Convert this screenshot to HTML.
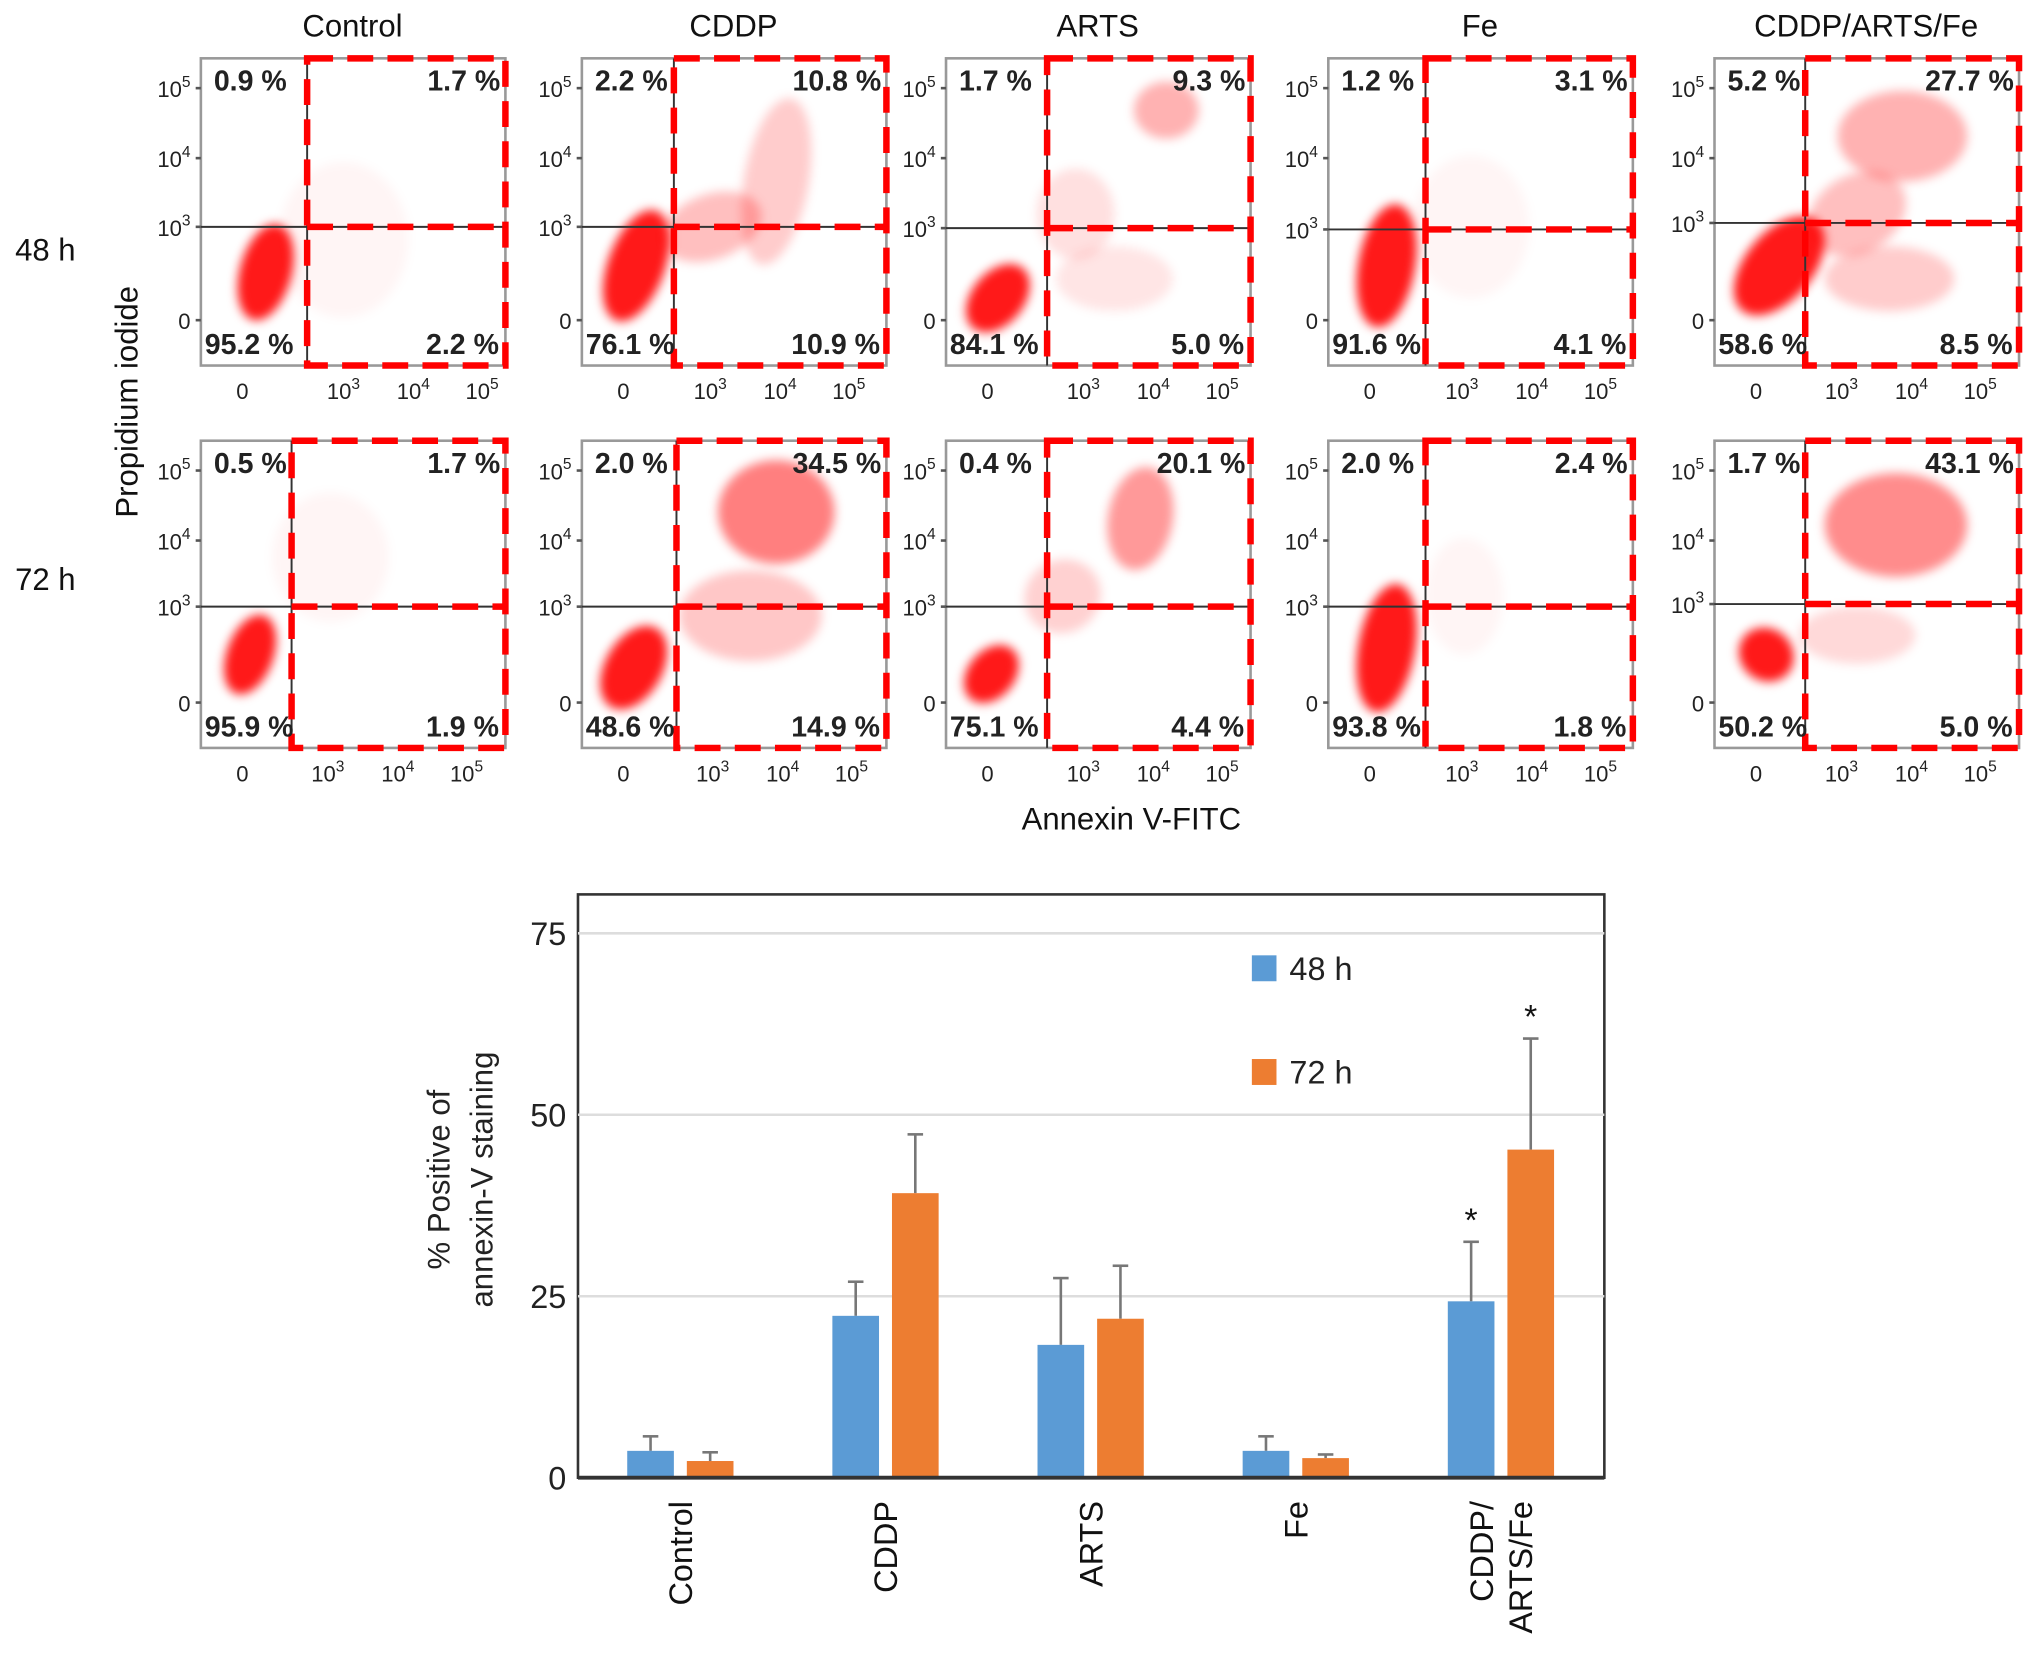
<!DOCTYPE html>
<html><head><meta charset="utf-8"><style>
html,body{margin:0;padding:0;background:#fff}
svg{display:block}
text{font-family:"Liberation Sans",sans-serif}
</style></head><body>
<svg id="fig" width="2032" height="1654" viewBox="0 0 1568 1276" preserveAspectRatio="none">
<defs><filter id="bl" x="-50%" y="-50%" width="200%" height="200%"><feGaussianBlur stdDeviation="4"/></filter></defs>
<g id="flow"></g>
<g id="bars"></g>
</svg>
<script>
const NS='http://www.w3.org/2000/svg';
function mk(tag,attrs,parent,txt){const e=document.createElementNS(NS,tag);for(const k in attrs)e.setAttribute(k,attrs[k]);if(txt!==undefined)e.textContent=txt;parent.appendChild(e);return e;}

/* ---------- flow panels ---------- */
const colTitles=['Control','CDDP','ARTS','Fe','CDDP/ARTS/Fe'];
const panelX=[155,449,730,1025,1323];
const gateX=[[237,520,808,1100,1393],[225,522,808,1100,1393]];
const gateY=[[175,175,176,177,172],[468,468,468,468,466]];
const rowTop=[45,340];
const quadLabels=[
 [['0.9 %','1.7 %','95.2 %','2.2 %'],['2.2 %','10.8 %','76.1 %','10.9 %'],['1.7 %','9.3 %','84.1 %','5.0 %'],['1.2 %','3.1 %','91.6 %','4.1 %'],['5.2 %','27.7 %','58.6 %','8.5 %']],
 [['0.5 %','1.7 %','95.9 %','1.9 %'],['2.0 %','34.5 %','48.6 %','14.9 %'],['0.4 %','20.1 %','75.1 %','4.4 %'],['2.0 %','2.4 %','93.8 %','1.8 %'],['1.7 %','43.1 %','50.2 %','5.0 %']]
];
const blobs=[
 [[[50,165,20,38,15,.9],[110,140,50,60,0,.04]],
  [[42,160,22,45,20,.9],[100,130,40,25,-20,.25],[150,95,25,65,10,.2]],
  [[40,185,20,30,40,.9],[170,40,25,22,0,.3],[100,120,30,35,0,.12],[130,170,45,25,0,.1]],
  [[45,160,22,48,10,.9],[110,130,45,55,0,.04]],
  [[50,160,26,45,40,.9],[110,120,40,30,-30,.25],[145,60,50,35,0,.3],[135,170,50,25,0,.2]]],
 [[[38,165,18,32,20,.9],[100,90,45,50,0,.04]],
  [[40,175,22,35,30,.9],[150,55,45,40,0,.5],[130,135,55,35,0,.22]],
  [[35,180,18,25,40,.9],[150,60,25,40,10,.4],[90,120,30,28,-30,.18]],
  [[45,160,22,50,10,.9],[105,120,30,45,0,.04]],
  [[40,165,22,20,40,.9],[140,65,55,40,0,.45],[110,150,45,22,0,.15]]]
];
const flow=document.getElementById('flow');
colTitles.forEach((t,c)=>{
  const tt=mk('text',{x:panelX[c]+117,y:28,'text-anchor':'middle','font-size':24,fill:'#111'},flow,t);
  
  
});
[['48 h',193],['72 h',447]].forEach(([t,y],i)=>{
  const e=mk('text',{x:35,y:y+8,'text-anchor':'middle','font-size':24,fill:'#111'},flow,t);
  
  
});
const pi=mk('text',{x:0,y:0,transform:'translate(106,310) rotate(-90)','text-anchor':'middle','font-size':24,fill:'#111'},flow,'Propidium iodide');


const av=mk('text',{x:873,y:640,'text-anchor':'middle','font-size':24,fill:'#111'},flow,'Annexin V-FITC');



for(let r=0;r<2;r++)for(let c=0;c<5;c++){
  const x0=panelX[c],y0=rowTop[r],W=235,H=237,gx=gateX[r][c],gy=gateY[r][c];
  const g=mk('g',{},flow);
  
  
  blobs[r][c].forEach(b=>{
    mk('ellipse',{cx:x0+b[0],cy:y0+b[1],rx:b[2],ry:b[3],transform:`rotate(${b[4]} ${x0+b[0]} ${y0+b[1]})`,fill:'#f00','fill-opacity':b[5],filter:'url(#bl)'},g);
  });
  mk('rect',{x:x0,y:y0,width:W,height:H,fill:'none',stroke:'#999','stroke-width':2},g);
  mk('line',{x1:x0,y1:gy,x2:x0+W,y2:gy,stroke:'#333','stroke-width':1.5},g);
  mk('line',{x1:gx,y1:y0,x2:gx,y2:y0+H,stroke:'#333','stroke-width':1.5},g);
  mk('rect',{x:gx,y:y0,width:x0+W-gx,height:H,fill:'none',stroke:'#f00','stroke-width':5,'stroke-dasharray':'20 11'},g);
  mk('line',{x1:gx,y1:gy,x2:x0+W,y2:gy,stroke:'#f00','stroke-width':5,'stroke-dasharray':'20 11'},g);
  const yl=[['10','5',23],['10','4',77],['10','3',gy-y0],['0','',202]];
  yl.forEach(([b,s,dy])=>{
    const t=mk('text',{x:x0-8,y:y0+dy+7,'text-anchor':'end','font-size':17,fill:'#222'},g,b);
    if(s){mk('tspan',{dy:-8,'font-size':12},t,s);}
    mk('line',{x1:x0-4,y1:y0+dy,x2:x0,y2:y0+dy,stroke:'#555','stroke-width':2},g);
  });
  const xl=[['0','',x0+32],['10','3',gx+28],['10','4',gx+82],['10','5',gx+135]];
  xl.forEach(([b,s,xx])=>{
    const t=mk('text',{x:xx,y:y0+H+26,'text-anchor':'middle','font-size':17,fill:'#222'},g,b);
    if(s){mk('tspan',{dy:-8,'font-size':12},t,s);}
  });
  const q=quadLabels[r][c];
  [[q[0],x0+10,y0+25,'start'],[q[1],x0+W-4,y0+25,'end'],[q[2],x0+3,y0+H-9,'start'],[q[3],x0+W-5,y0+H-9,'end']].forEach(([t,xx,yy,a],k)=>{
    const e=mk('text',{x:xx,y:yy,'text-anchor':a,'font-size':22,'font-weight':'bold',fill:'#222'},g,t);
    
    
  });
}

/* ---------- bar chart ---------- */
const categories=['Control','CDDP','ARTS','Fe','CDDP/\nARTS/Fe'];
const series48=[3.7,22.3,18.3,3.7,24.3];
const err48=[5.7,27.0,27.5,5.7,32.5];
const series72=[2.3,39.2,21.9,2.7,45.2];
const err72=[3.5,47.3,29.2,3.2,60.5];
const sig48=[false,false,false,false,true];
const sig72=[false,false,false,false,true];
const yTicks=[0,25,50,75];

const B=document.getElementById('bars');
const L=446,R=1238,T=690,Bt=1140;
const y=v=>Bt-(v/75)*(Bt-720);
const cx=i=>525+i*158.3;
mk('rect',{x:L,y:T,width:R-L,height:Bt-T,fill:'#fff',stroke:'#333','stroke-width':2},B);
yTicks.forEach(v=>{
  if(v>0){const gl=mk('line',{x1:L,x2:R,y1:y(v),y2:y(v),stroke:'#ddd','stroke-width':2},B);
  
  }
  const t=mk('text',{x:437,y:y(v)+9,'text-anchor':'end','font-size':25,fill:'#222'},B,String(v));
  
  
});
function bar(i,val,err,sig,off,col,nm){
  const x=cx(i)+off,w=36;
  mk('line',{x1:x+w/2,x2:x+w/2,y1:y(val),y2:y(err),stroke:'#777','stroke-width':2},B);
  mk('line',{x1:x+w/2-6,x2:x+w/2+6,y1:y(err),y2:y(err),stroke:'#777','stroke-width':2},B);
  const r=mk('rect',{x:x,y:y(val),width:w,height:Bt-y(val),fill:col},B);
  
  
  if(sig){const s=mk('text',{x:x+w/2,y:y(err)-8,'text-anchor':'middle','font-size':26,fill:'#111'},B,'*');
  
  }
}
categories.forEach((c,i)=>{
  bar(i,series48[i],err48[i],sig48[i],-41,'#5b9bd5','bar-48h');
  bar(i,series72[i],err72[i],sig72[i],5,'#ed7d31','bar-72h');
  const lines=c.split('\n');
  lines.forEach((ln,k)=>{
    const t=mk('text',{x:0,y:0,transform:`translate(${cx(i)+9-(lines.length-1)*15+k*30},1158) rotate(-90)`,'text-anchor':'end','font-size':25,fill:'#111'},B,ln);
    
    
  });
});
mk('line',{x1:L,x2:R,y1:Bt,y2:Bt,stroke:'#333','stroke-width':3},B);
[['48 h','#5b9bd5',747],['72 h','#ed7d31',827]].forEach(([t,col,yy],k)=>{
  const g=mk('g',{},B);
  
  
  mk('rect',{x:966,y:yy-10,width:19,height:20,fill:col},g);
  mk('text',{x:995,y:yy+9,'font-size':25,fill:'#222'},g,t);
});
const yt=mk('text',{x:0,y:0,transform:'translate(0,910) rotate(-90)','text-anchor':'middle','font-size':24,fill:'#222'},B);


mk('tspan',{x:0,y:347},yt,'% Positive of');
mk('tspan',{x:0,y:380},yt,'annexin-V staining');
</script>
</body></html>
